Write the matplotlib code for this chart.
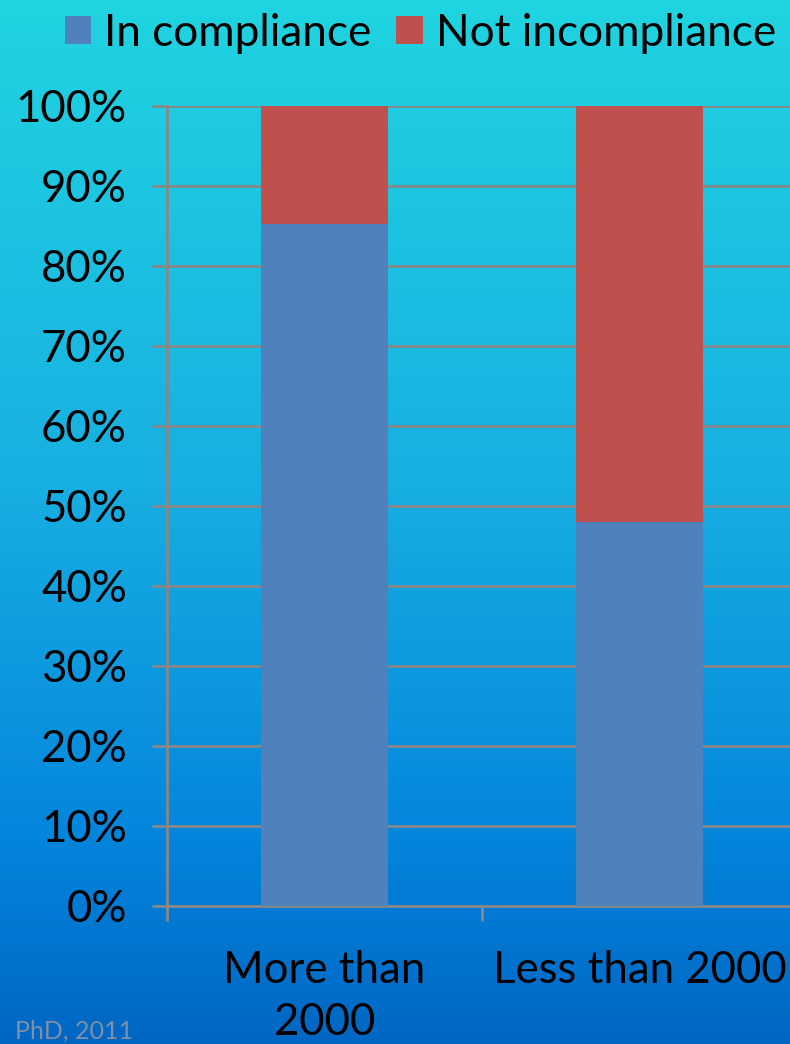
import numpy as np
import matplotlib
matplotlib.use("Agg")
import matplotlib.pyplot as plt
from matplotlib.colors import LinearSegmentedColormap

categories = ["More than\n2000", "Less than 2000"]
in_compliance = [85.3, 48.0]
not_compliance = [14.7, 52.0]
series_names = ["In compliance", "Not incompliance"]
yticks = [0, 10, 20, 30, 40, 50, 60, 70, 80, 90, 100]

plt.rcParams['font.family'] = ['Lato', 'DejaVu Sans']

W, H = 790, 1044
fig = plt.figure(figsize=(W / 100, H / 100), dpi=100)

# gradient background
bg = fig.add_axes([0, 0, 1, 1])
cmap = LinearSegmentedColormap.from_list(
    "bg", [(0.0, "#20d4e0"), (0.45, "#18b0e2"), (0.8, "#0486dc"), (1.0, "#0066c4")])
grad = np.linspace(0, 1, 256).reshape(-1, 1)
bg.imshow(grad, aspect="auto", cmap=cmap, extent=[0, 1, 0, 1], origin="upper")
bg.set_axis_off()

left = 167 / W
bottom = (H - 906) / H
width = 630 / W
height = 800 / H
ax = fig.add_axes([left, bottom, width, height])
ax.patch.set_alpha(0)

x = np.arange(len(categories))
bw = 0.403
ax.bar(x, in_compliance, bw, color="#4f81bd", label=series_names[0], zorder=3)
ax.bar(x, not_compliance, bw, bottom=in_compliance, color="#c0504d",
       label=series_names[1], zorder=3)

FS = 31.5
ax.set_xlim(-0.5, 1.5)
ax.set_ylim(0, 100)
ax.set_yticks(yticks)
ax.set_yticklabels([f"{v}%" for v in yticks], fontsize=FS)
ax.yaxis.grid(True, color="#888888", linewidth=2, zorder=1)
ax.set_axisbelow(True)

ax.set_xticks([-0.5, 0.5, 1.5])
ax.set_xticklabels([])
ax.set_xticks(x, minor=True)
ax.set_xticklabels(categories, minor=True, fontsize=FS, linespacing=1.33)
ax.tick_params(axis="x", which="minor", length=0, pad=32)
ax.tick_params(axis="x", which="major", length=11, width=2, color="#888888", direction="out")
ax.tick_params(axis="y", length=11, width=2, color="#888888", pad=18)
for lbl in ax.get_xticklabels(minor=True):
    lbl.set_verticalalignment("top")

for s in ["top", "right"]:
    ax.spines[s].set_visible(False)
for s in ["left", "bottom"]:
    ax.spines[s].set_color("#888888")
    ax.spines[s].set_linewidth(2)

leg = fig.legend(loc="upper left", bbox_to_anchor=(47 / W, 1 + 5 / H), ncol=2,
                 frameon=False, fontsize=31.8, handlelength=0.6, handleheight=0.6,
                 handletextpad=0.3, columnspacing=0.55, borderaxespad=0)

fig.text(15 / W, 1 - 1043 / H, "PhD, 2011", color="#7f8fa6", fontsize=18,
         ha="left", va="bottom")

fig.savefig("out.png", dpi=100)
